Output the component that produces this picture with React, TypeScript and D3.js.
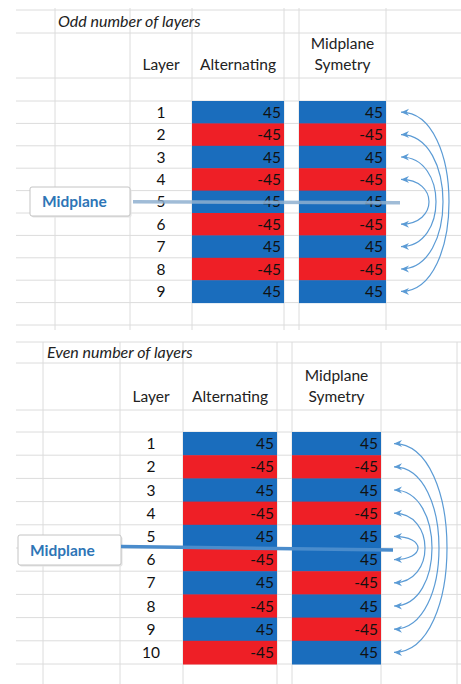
import * as d3 from "d3";

// ---- data ----
const oddLayers = [1, 2, 3, 4, 5, 6, 7, 8, 9];
const oddAlternating = [45, -45, 45, -45, 45, -45, 45, -45, 45];
const oddSymmetry = [45, -45, 45, -45, 45, -45, 45, -45, 45];
const oddPairs = [[1, 9], [2, 8], [3, 7], [4, 6]];

const evenLayers = [1, 2, 3, 4, 5, 6, 7, 8, 9, 10];
const evenAlternating = [45, -45, 45, -45, 45, -45, 45, -45, 45, -45];
const evenSymmetry = [45, -45, 45, -45, 45, 45, -45, 45, -45, 45];
const evenPairs = [[1, 10], [2, 9], [3, 8], [4, 7], [5, 6]];

const BLUE = "#1a6dbd";
const RED = "#ee1f26";
const GRID = "#dcdcdc";
const FONT = "Lato, 'Open Sans', sans-serif";
const FS = 15.5;

function Panel(props) {
  const c = props.cfg;
  const y = d3
    .scaleBand()
    .domain(c.layers.map(String))
    .range([c.rowsTop, c.rowsTop + c.layers.length * c.rowH]);
  const rowsBottom = c.rowsTop + c.layers.length * c.rowH;
  const hlines = [c.hTitle, c.hHeader, c.hGap, c.rowsTop, ...c.layers.map((l) => y(String(l)) + y.bandwidth()), rowsBottom + c.rowH];
  const mid = (l) => y(String(l)) + y.bandwidth() / 2;
  const color = (v) => (v > 0 ? BLUE : RED);

  return (
    <g>
      {/* sheet grid */}
      {c.vlines.map((x, i) => (
        <line key={"v" + i} x1={x} x2={x} y1={c.top} y2={c.bottom} stroke={GRID} strokeWidth={1} />
      ))}
      {hlines.map((h, i) => (
        <line key={"h" + i} x1={16} x2={461} y1={h} y2={h} stroke={GRID} strokeWidth={1} />
      ))}

      <text x={c.titleX} y={(c.hTitle + c.hHeader) / 2 + 5.5} fontFamily={FONT} fontStyle="italic" fontSize={16} fill="#222">
        {c.title}
      </text>

      {/* headers */}
      <g fontFamily={FONT} fontSize={FS} fill="#222" textAnchor="middle">
        <text x={c.layerX} y={c.hGap - 8}>Layer</text>
        <text x={(c.altX[0] + c.altX[1]) / 2} y={c.hGap - 8}>Alternating</text>
        <text x={(c.symX[0] + c.symX[1]) / 2} y={c.hGap - 29}>Midplane</text>
        <text x={(c.symX[0] + c.symX[1]) / 2} y={c.hGap - 8}>Symetry</text>
      </g>

      {/* layer cells */}
      {c.layers.map((l, i) => (
        <g key={"r" + l} fontFamily={FONT} fontSize={FS} fill="#111">
          <text x={c.layerX} y={mid(l) + 5.5} textAnchor="middle">{l}</text>
          <rect x={c.altX[0]} y={y(String(l))} width={c.altX[1] - c.altX[0]} height={y.bandwidth() + 0.5} fill={color(c.alt[i])} />
          <rect x={c.symX[0]} y={y(String(l))} width={c.symX[1] - c.symX[0]} height={y.bandwidth() + 0.5} fill={color(c.sym[i])} />
          <text x={c.altX[1] - 3} y={mid(l) + 5.5} textAnchor="end">{c.alt[i]}</text>
          <text x={c.symX[1] - 3} y={mid(l) + 5.5} textAnchor="end">{c.sym[i]}</text>
        </g>
      ))}

      {/* midplane label */}
      <rect x={c.box[0] + 1.5} y={c.box[1] + 1.5} width={c.box[2]} height={c.box[3]} fill="#e4e4e4" rx={2} />
      <rect x={c.box[0]} y={c.box[1]} width={c.box[2]} height={c.box[3]} fill="#fff" stroke="#c4c4c4" rx={2} />
      <text x={c.box[0] + 12} y={c.box[1] + c.box[3] / 2 + 5.5} fontFamily={FONT} fontWeight="bold" fontSize={FS} fill="#2e75b6">
        Midplane
      </text>
      <line
        x1={c.line[0]}
        y1={c.lineY(y)[0]}
        x2={c.line[1]}
        y2={c.lineY(y)[1]}
        stroke={c.lineColor}
        strokeOpacity={c.lineOpacity}
        strokeWidth={3.5}
      />

      {/* symmetry arcs */}
      {c.pairs.map((p, i) => {
        const x0 = c.arcX0;
        const cx = x0 + (c.arcMax[i] - x0) / 0.75;
        const path = d3.path();
        path.moveTo(x0, mid(p[0]));
        path.bezierCurveTo(cx, mid(p[0]), cx, mid(p[1]), x0, mid(p[1]));
        return (
          <path
            key={"a" + i}
            d={path.toString()}
            fill="none"
            stroke="#5b9bd5"
            strokeWidth={1.2}
            markerStart="url(#arrow)"
            markerEnd="url(#arrow)"
          />
        );
      })}
    </g>
  );
}

export default function App() {
  const top = {
    layers: oddLayers,
    alt: oddAlternating,
    sym: oddSymmetry,
    pairs: oddPairs,
    title: "Odd number of layers",
    top: 8,
    bottom: 330,
    hTitle: 10,
    hHeader: 33,
    hGap: 78,
    rowsTop: 101,
    rowH: 22.4,
    vlines: [55, 130, 192, 284, 299, 386],
    titleX: 58,
    layerX: 161,
    altX: [192, 284],
    symX: [299, 386],
    box: [30, 187, 100, 29],
    line: [133, 400],
    lineY: (y) => [y("5") + y.bandwidth() / 2, y("5") + y.bandwidth() / 2 + 1],
    lineColor: "#8fb0d0",
    lineOpacity: 0.85,
    arcX0: 401,
    arcMax: [449, 443, 436, 429],
  };
  const bottom = {
    layers: evenLayers,
    alt: evenAlternating,
    sym: evenSymmetry,
    pairs: evenPairs,
    title: "Even number of layers",
    top: 342,
    bottom: 684,
    hTitle: 342,
    hHeader: 363,
    hGap: 410,
    rowsTop: 432,
    rowH: 23.2,
    vlines: [43, 120, 183, 277, 292, 381, 457],
    titleX: 47,
    layerX: 151,
    altX: [183, 277],
    symX: [292, 381],
    box: [18, 535, 103, 30],
    line: [121, 393],
    lineY: (y) => [y("6") - 1.5, y("6") + 2],
    lineColor: "#4a8ccc",
    lineOpacity: 1,
    arcX0: 394,
    arcMax: [447, 439, 432, 425, 418],
  };

  return (
    <svg width={461} height={684} style={{ position: "absolute", left: 0, top: 0, background: "#fff" }}>
      <defs>
        <marker
          id="arrow"
          viewBox="-10 -5 12 10"
          refX={0}
          refY={0}
          markerWidth={12}
          markerHeight={10}
          markerUnits="userSpaceOnUse"
          orient="auto-start-reverse"
        >
          <path d="M0,0 L-8,-3.5 L-5.5,0 L-8,3.5 Z" fill="#5b9bd5" />
        </marker>
      </defs>
      <rect width={461} height={684} fill="#fff" />
      <Panel cfg={top} />
      <Panel cfg={bottom} />
    </svg>
  );
}
